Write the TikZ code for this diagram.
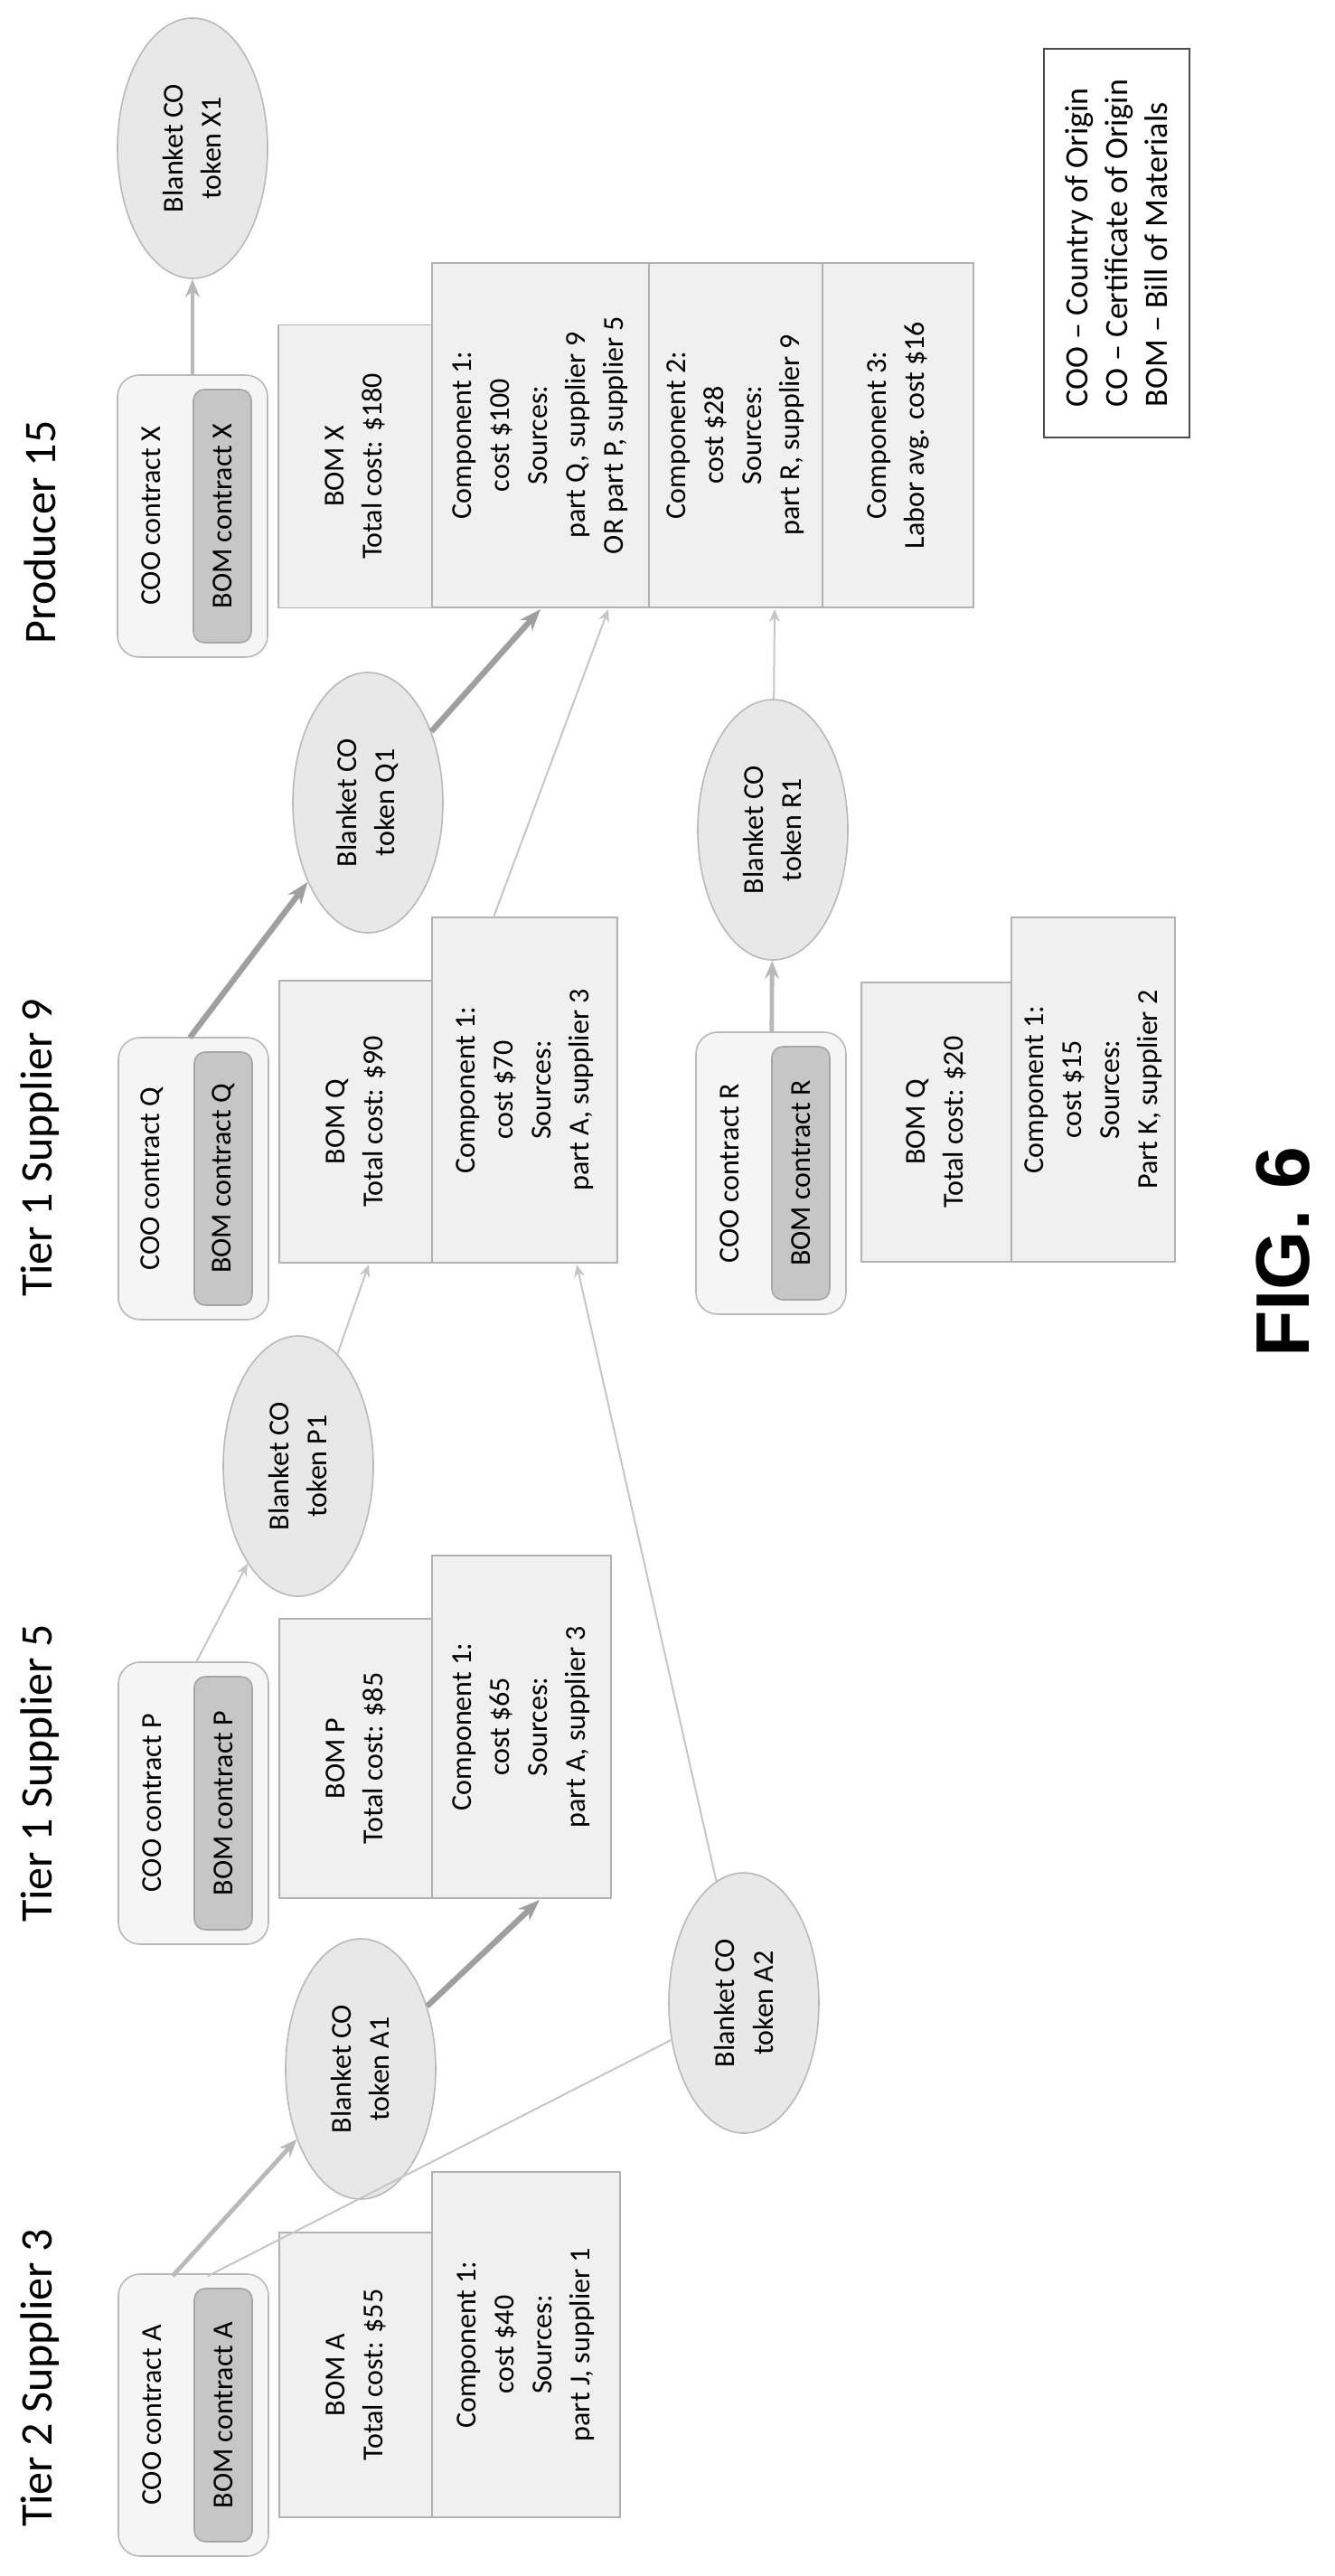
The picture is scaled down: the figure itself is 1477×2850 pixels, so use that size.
\documentclass[tikz,border=0pt]{standalone}
\usepackage{fontspec}
\setmainfont{Carlito}
\newfontfamily\figfont{Liberation Sans}
\usetikzlibrary{shapes.geometric,arrows.meta}

\begin{document}
\begin{tikzpicture}[x=0.25pt,y=-0.25pt,
    every node/.style={rotate=90,font=\fontsize{8}{10.5}\selectfont,align=center},
    box/.style={draw=gray!60,fill=gray!12,inner sep=0pt},
    coo/.style={draw=gray!55,fill=gray!8,rounded corners=6pt,minimum width=78pt,minimum height=41.5pt,inner sep=0pt},
    bomc/.style={draw=gray!70,fill=gray!45,rounded corners=3pt,minimum width=70pt,minimum height=16pt,inner sep=0pt},
    token/.style={ellipse,draw=gray!55,fill=gray!18,minimum width=72pt,minimum height=41.5pt,inner sep=0pt},
    title/.style={font=\fontsize{12.5}{14}\selectfont},
    thick arr/.style={-{Stealth[length=6pt,width=4.5pt]},line width=1.6pt,gray!75},
    mid arr/.style={-{Stealth[length=5pt,width=4pt]},line width=1.2pt,gray!55},
    thin arr/.style={-{Stealth[length=3.5pt,width=3pt]},line width=0.5pt,gray!45}]

    \useasboundingbox (0,0) rectangle (1477,2850);

    % titles
    \node[title] (tProd) at (44,589) {Producer 15};
    \node[title] (tS9) at (44,1270) {Tier 1 Supplier 9};
    \node[title] (tS5) at (44,1962) {Tier 1 Supplier 5};
    \node[title] (tS3) at (44,2631) {Tier 2 Supplier 3};

    % COO contracts with BOM contracts inside
    \foreach \n/\px/\py in {X/213/571, Q/214/1304, R/853/1298, P/214/1995, A/214/2672}{
        \node[coo] (coo\n) at (\px,\py) {};
        \node (cooLbl\n) at (\px-46,\py) {COO contract \n};
        \node[bomc] (bomc\n) at (\px+33,\py) {BOM contract \n};
    }

    % tokens
    \node[token] (tokX1) at (213,164) {Blanket CO\\token X1};
    \node[token] (tokQ1) at (407,888) {Blanket CO\\token Q1};
    \node[token] (tokR1) at (855,918) {Blanket CO\\token R1};
    \node[token] (tokP1) at (330,1622) {Blanket CO\\token P1};
    \node[token] (tokA1) at (399,2289) {Blanket CO\\token A1};
    \node[token] (tokA2) at (823,2216) {Blanket CO\\token A2};

    % BOMs
    \node[box,minimum width=78.25pt,minimum height=42.5pt] (bomX) at (393,516) {BOM X\\Total cost: \$180};
    \node[box,minimum width=95.25pt,minimum height=60pt] (compX1) at (598,481.5) {Component 1:\\cost \$100\\Sources:\\part Q, supplier 9\\OR part P, supplier 5};
    \node[box,minimum width=95.25pt,minimum height=48pt] (compX2) at (814,481.5) {Component 2:\\cost \$28\\Sources:\\part R, supplier 9};
    \node[box,minimum width=95.25pt,minimum height=41.75pt] (compX3) at (993.5,481.5) {Component 3:\\Labor avg. cost \$16};

    \node[box,minimum width=78pt,minimum height=42.25pt] (bomQ) at (393.5,1241) {BOM Q\\Total cost: \$90};
    \node[box,minimum width=95.5pt,minimum height=51.25pt] (compQ) at (580.5,1206) {Component 1:\\cost \$70\\Sources:\\part A, supplier 3};

    \node[box,minimum width=77.25pt,minimum height=41.5pt] (bomR) at (1036,1241.5) {BOM Q\\Total cost: \$20};
    \node[box,minimum width=95.25pt,minimum height=45.25pt] (compR) at (1209.5,1205.5) {Component 1:\\cost \$15\\Sources:\\Part K, supplier 2};

    \node[box,minimum width=77.25pt,minimum height=42.25pt] (bomP) at (393.5,1945.5) {BOM P\\Total cost: \$85};
    \node[box,minimum width=94.75pt,minimum height=49.5pt] (compP) at (577,1910.5) {Component 1:\\cost \$65\\Sources:\\part A, supplier 3};

    \node[box,minimum width=78.75pt,minimum height=42.25pt] (bomA) at (393.5,2627.5) {BOM A\\Total cost: \$55};
    \node[box,minimum width=95.5pt,minimum height=52pt] (compA) at (582,2594) {Component 1:\\cost \$40\\Sources:\\part J, supplier 1};

    % legend and caption
    \node[draw=black!70,align=left,minimum width=107.5pt,minimum height=40.25pt,font=\fontsize{9}{11}\selectfont] (legend) at (1235.5,269)
        {COO -- Country of Origin\\CO -- Certificate of Origin\\BOM -- Bill of Materials};
    \node[font=\figfont\bfseries\fontsize{21}{24}\selectfont] (figLbl) at (1420,1385) {FIG. 6};

    % connector ends
    \coordinate (tailQ) at (210,1148);
    \coordinate (tailP) at (217,1839);
    \coordinate (tailA1) at (191,2518);
    \coordinate (tailA2) at (230,2518);
    \coordinate (tailC) at (546,1015);
    \coordinate (headQ1) at (598,674);
    \coordinate (headR1) at (857,674);
    \coordinate (headP1) at (408,1399);
    \coordinate (headA1) at (597,2102);
    \coordinate (headA2) at (638,1399);
    \coordinate (headC) at (673,674);

    % connectors
    \draw[mid arr] (cooX) -- (tokX1);
    \draw[thick arr] (tailQ) -- (tokQ1);
    \draw[thick arr] (tokQ1) -- (headQ1);
    \draw[mid arr] (cooR) -- (tokR1);
    \draw[thin arr] (tokR1) -- (headR1);
    \draw[thin arr] (tailP) -- (tokP1);
    \draw[thin arr] (tokP1) -- (headP1);
    \draw[mid arr] (tailA1) -- (tokA1);
    \draw[line width=0.5pt,gray!45] (tailA2) -- (tokA2);
    \draw[thick arr] (tokA1) -- (headA1);
    \draw[thin arr] (tokA2) -- (headA2);
    \draw[thin arr] (tailC) -- (headC);

\end{tikzpicture}
\end{document}
